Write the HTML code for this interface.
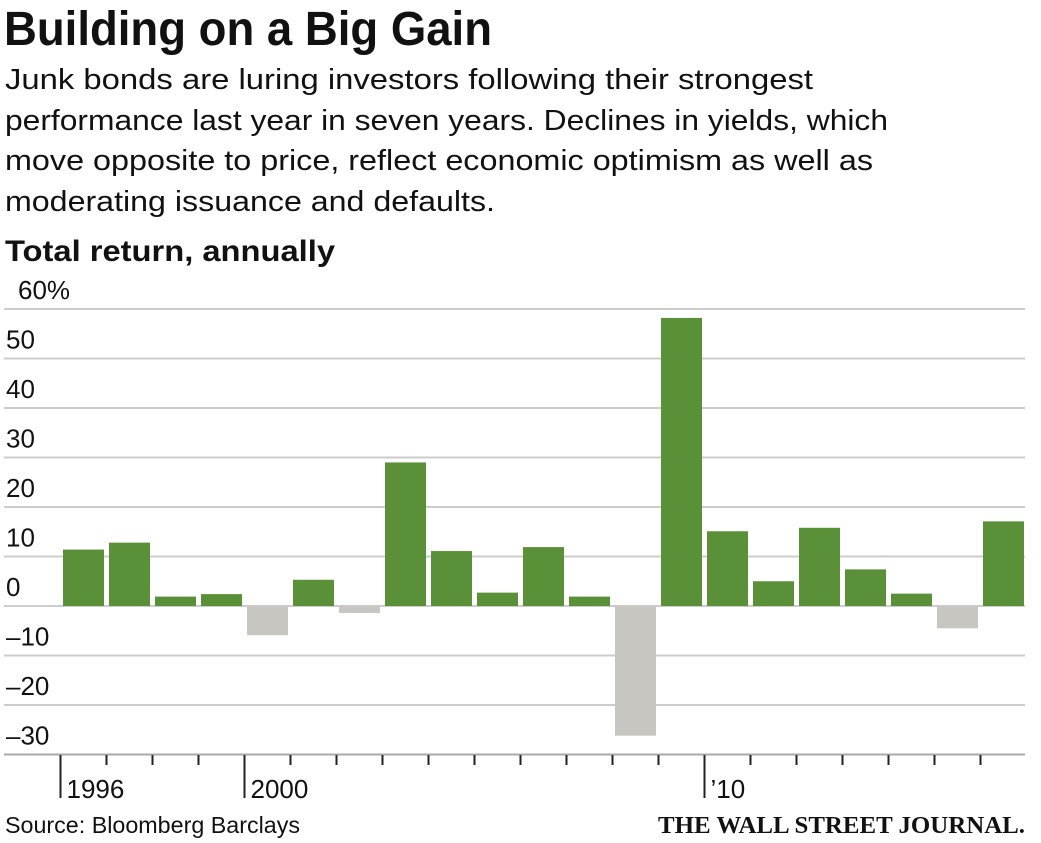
<!DOCTYPE html>
<html><head><meta charset="utf-8"><style>
html,body{margin:0;padding:0;background:#fff;}
svg{display:block;}
text{font-family:"Liberation Sans",sans-serif;fill:#111;}
</style></head><body>
<svg id="chart" width="1041" height="843">
<text x="4" y="45" font-size="48" font-weight="bold" textLength="488" lengthAdjust="spacingAndGlyphs">Building on a Big Gain</text>
<g font-size="29">
<text x="5" y="89" textLength="808" lengthAdjust="spacingAndGlyphs">Junk bonds are luring investors following their strongest</text>
<text x="5" y="130" textLength="883" lengthAdjust="spacingAndGlyphs">performance last year in seven years. Declines in yields, which</text>
<text x="5" y="170" textLength="868" lengthAdjust="spacingAndGlyphs">move opposite to price, reflect economic optimism as well as</text>
<text x="5" y="211" textLength="490" lengthAdjust="spacingAndGlyphs">moderating issuance and defaults.</text>
</g>
<text x="5" y="261" font-size="30" font-weight="bold" textLength="330" lengthAdjust="spacingAndGlyphs">Total return, annually</text>
<g id="grid"></g>
<g id="bars"></g>
<g id="xaxis"></g>
<text x="5" y="833" font-size="23" textLength="295" lengthAdjust="spacingAndGlyphs">Source: Bloomberg Barclays</text>
<text x="1025" y="833" font-size="24" font-weight="bold" text-anchor="end" textLength="367" lengthAdjust="spacingAndGlyphs" style="font-family:'Liberation Serif',serif">THE WALL STREET JOURNAL.</text>
</svg>
<script>
const years = [1996,1997,1998,1999,2000,2001,2002,2003,2004,2005,2006,2007,2008,2009,2010,2011,2012,2013,2014,2015,2016];
const returns = [11.4,12.8,1.9,2.4,-5.9,5.3,-1.4,29.0,11.1,2.7,11.9,1.9,-26.2,58.2,15.1,5.0,15.8,7.4,2.5,-4.5,17.1];
const yTicks = [60,50,40,30,20,10,0,-10,-20,-30];
const yTickLabels = ["60%","50","40","30","20","10","0","\u201310","\u201320","\u201330"];
const xMajor = {1996:"1996",2000:"2000",2010:"\u201910"};

const NS="http://www.w3.org/2000/svg";
const y0=606, pxPerUnit=4.95;
function yScale(v){return y0 - v*pxPerUnit;}
const step=46, barW=41, x0=63;
function xScale(i){return x0 + i*step;}
function mk(tag,attrs,parent){const e=document.createElementNS(NS,tag);for(const k in attrs)e.setAttribute(k,attrs[k]);parent.appendChild(e);return e;}

const grid=document.getElementById('grid');
yTicks.forEach((t,i)=>{
  const y=yScale(t);
  const l=mk('line',{x1:4,x2:1025,y1:y,y2:y,stroke:t===-30?'#aaa':'#ccc','stroke-width':2},grid);
  
  
  const tx=mk('text',{x:i===0?18:6,y:y-10,'font-size':26},grid);
  tx.textContent=yTickLabels[i];
  
  
});

const bars=document.getElementById('bars');
returns.forEach((v,i)=>{
  const top=Math.min(yScale(v),y0), h=Math.abs(yScale(v)-y0);
  const r=mk('rect',{x:xScale(i),y:top,width:barW,height:h,fill:v>=0?'#5a9138':'#c7c6c1'},bars);
  
  
});

const xa=document.getElementById('xaxis');
for(let i=0;i<years.length;i++){
  const x=xScale(i)-2.5;
  const major=xMajor[years[i]];
  const t=mk('line',{x1:x,x2:x,y1:755,y2:major?798:765,stroke:'#222','stroke-width':2},xa);
  
  
  if(major){
    const tx=mk('text',{x:x+6,y:798,'font-size':26},xa);
    tx.textContent=major;
    
    
  }
}
</script>
</body></html>
